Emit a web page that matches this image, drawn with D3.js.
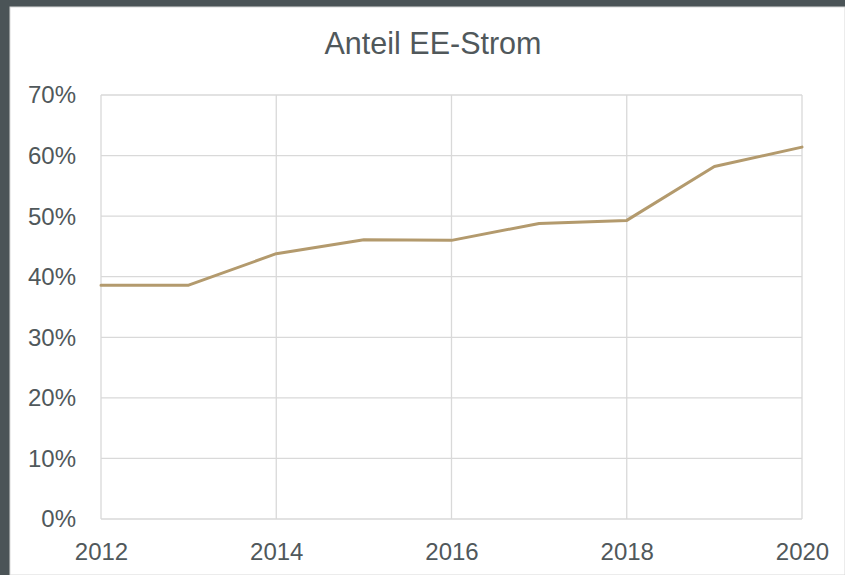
<!DOCTYPE html>
<html><head><meta charset="utf-8">
<script src="https://cdn.jsdelivr.net/npm/d3@7"></script>
<style>html,body{margin:0;padding:0;background:#4b5457;}svg{display:block;}</style>
</head><body>
<script>
const years = [2012, 2013, 2014, 2015, 2016, 2017, 2018, 2019, 2020];
const shareEE = [38.6, 38.6, 43.8, 46.1, 46.0, 48.8, 49.3, 58.2, 61.4];
const yTicks = [0, 10, 20, 30, 40, 50, 60, 70];
const xTicks = [2012, 2014, 2016, 2018, 2020];
const title = "Anteil EE-Strom";

const W = 845, H = 575;
const svg = d3.select("body").append("svg").attr("width", W).attr("height", H);
svg.append("rect").attr("x", 0).attr("y", 0).attr("width", W).attr("height", H).attr("fill", "#4b5457");
svg.append("rect").attr("x", 10).attr("y", 7).attr("width", W - 10).attr("height", H - 7).attr("fill", "#ffffff").attr("stroke", "#d9d9d9").attr("stroke-width", 1);

const x = d3.scaleLinear().domain([2012, 2020]).range([101, 802]);
const y = d3.scaleLinear().domain([0, 70]).range([519, 95]);
const font = "'Liberation Sans', Arial, sans-serif";
const txt = "#50585b";

const g = svg.append("g");
g.selectAll("line.h").data(yTicks).join("line")
  .attr("x1", x(2012)).attr("x2", x(2020))
  .attr("y1", d => y(d)).attr("y2", d => y(d))
  .attr("stroke", "#d9d9d9").attr("stroke-width", 1.3);
g.selectAll("line.v").data(xTicks).join("line")
  .attr("x1", d => x(d)).attr("x2", d => x(d))
  .attr("y1", y(70)).attr("y2", y(0))
  .attr("stroke", "#d9d9d9").attr("stroke-width", 1.3);

const yAxis = d3.axisLeft(y).tickValues(yTicks).tickFormat(d => d + "%").tickSize(0).tickPadding(0);
const ya = svg.append("g").attr("transform", "translate(76,0)").call(yAxis);
ya.select(".domain").remove();
ya.selectAll("text").attr("font-family", font).attr("font-size", 24).attr("fill", txt).attr("dy", "0.33em");

const xAxis = d3.axisBottom(x).tickValues(xTicks).tickFormat(d3.format("d")).tickSize(0).tickPadding(0);
const xa = svg.append("g").attr("transform", "translate(0,560)").call(xAxis);
xa.select(".domain").remove();
xa.selectAll("text").attr("font-family", font).attr("font-size", 24).attr("fill", txt).attr("y", 0).attr("dy", 0);

const line = d3.line().x((d, i) => x(years[i])).y(d => y(d));
svg.append("path").datum(shareEE).attr("d", line)
  .attr("fill", "none").attr("stroke", "#b39a6d").attr("stroke-width", 3)
  .attr("stroke-linejoin", "round").attr("stroke-linecap", "round");

svg.append("text").attr("x", 433).attr("y", 54).attr("text-anchor", "middle")
  .attr("font-family", font).attr("font-size", 30.5).attr("fill", txt).text(title);
</script>
</body></html>
